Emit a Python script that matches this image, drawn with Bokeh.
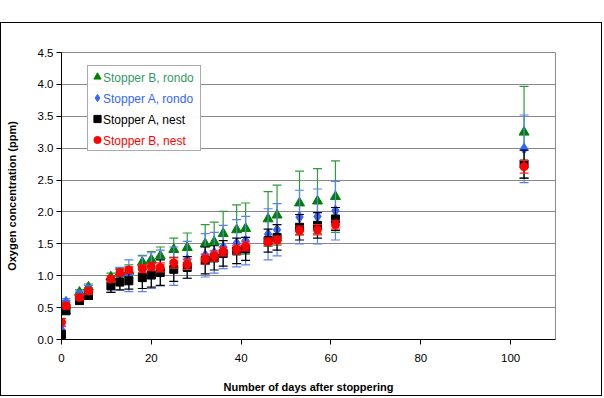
from bokeh.plotting import figure
from bokeh.models import (ColumnDataSource, Legend, LegendItem, Spacer,
                          SingleIntervalTicker, Range1d, CustomJSTickFormatter)
from bokeh.layouts import column
from bokeh.embed import file_html
from bokeh.resources import INLINE

# Days after stoppering
days = [0, 1, 4, 6, 11, 13, 15, 18, 20, 22, 25, 28, 32, 34, 36, 39, 41, 46, 48, 53, 57, 61, 103]

# Oxygen concentration (ppm) and standard deviations per closure type
b_rondo = [0.02, 0.57, 0.74, 0.82, 0.98, 1.03, 1.07, 1.21, 1.25, 1.31, 1.41, 1.44, 1.50, 1.53, 1.66, 1.72, 1.74, 1.89, 1.95, 2.14, 2.17, 2.24, 3.25]
b_rondo_sd = [0.02, 0.04, 0.04, 0.05, 0.06, 0.08, 0.10, 0.11, 0.13, 0.14, 0.18, 0.23, 0.30, 0.31, 0.35, 0.39, 0.40, 0.43, 0.47, 0.50, 0.51, 0.56, 0.72]

a_rondo = [0.15, 0.59, 0.70, 0.78, 0.87, 0.95, 1.00, 1.03, 1.08, 1.12, 1.15, 1.25, 1.32, 1.36, 1.45, 1.51, 1.55, 1.65, 1.72, 1.92, 1.93, 2.02, 2.99]
a_rondo_sd = [0.05, 0.05, 0.06, 0.07, 0.13, 0.18, 0.25, 0.28, 0.28, 0.28, 0.30, 0.29, 0.34, 0.32, 0.34, 0.37, 0.38, 0.40, 0.41, 0.42, 0.43, 0.46, 0.53]

a_nest = [0.08, 0.45, 0.61, 0.69, 0.84, 0.90, 0.92, 0.97, 1.01, 1.05, 1.10, 1.13, 1.24, 1.28, 1.35, 1.39, 1.42, 1.55, 1.60, 1.76, 1.79, 1.89, 2.75]
a_nest_sd = [0.04, 0.04, 0.05, 0.06, 0.10, 0.12, 0.13, 0.17, 0.19, 0.20, 0.19, 0.17, 0.21, 0.19, 0.20, 0.20, 0.18, 0.18, 0.20, 0.20, 0.20, 0.18, 0.22]

b_nest = [0.27, 0.53, 0.66, 0.76, 0.95, 1.05, 1.09, 1.11, 1.14, 1.13, 1.20, 1.18, 1.26, 1.31, 1.38, 1.41, 1.46, 1.53, 1.56, 1.71, 1.72, 1.80, 2.71]
b_nest_sd = [0.06, 0.05, 0.04, 0.05, 0.05, 0.05, 0.05, 0.06, 0.06, 0.07, 0.08, 0.08, 0.08, 0.08, 0.07, 0.07, 0.07, 0.06, 0.06, 0.07, 0.08, 0.07, 0.10]

series = [
    # label, values, sd, marker, size, marker colour, bar colour, text colour
    ("Stopper B, rondo", b_rondo, b_rondo_sd, "triangle", 10, "#008000", "#2e9a3a", "#339966"),
    ("Stopper A, rondo", a_rondo, a_rondo_sd, "diamond", 11, "#3366ff", "#5a82ee", "#3366ff"),
    ("Stopper A, nest", a_nest, a_nest_sd, "square", 8, "#000000", "#000000", "#000000"),
    ("Stopper B, nest", b_nest, b_nest_sd, "circle", 8, "#ff0000", "#ff2020", "#ff0000"),
]

FONT = "Liberation Sans"

p = figure(width=602, height=374, output_backend="svg", toolbar_location=None,
           x_range=Range1d(0, 110), y_range=Range1d(0, 4.5),
           min_border_left=60, min_border_right=48, min_border_top=29, min_border_bottom=58)
p.styles = {"border": "1px solid #000000"}
p.background_fill_color = "#ffffff"
p.border_fill_color = "#ffffff"
p.outline_line_color = "#8c8c8c"
p.outline_line_width = 1

p.xgrid.grid_line_color = None
p.ygrid.grid_line_color = "#888888"
p.ygrid.grid_line_width = 1

p.xaxis.ticker = SingleIntervalTicker(interval=20)
p.yaxis.ticker = SingleIntervalTicker(interval=0.5)
p.yaxis.formatter = CustomJSTickFormatter(code="return tick.toFixed(1);")

for ax in (p.xaxis, p.yaxis):
    ax.axis_line_color = "#000000"
    ax.major_tick_line_color = "#000000"
    ax.minor_tick_line_color = None
    ax.major_tick_out = 5
    ax.major_tick_in = 0
    ax.major_label_text_font = FONT
    ax.major_label_text_font_size = "11.5px"
    ax.major_label_text_color = "#000000"
    ax.axis_label_text_font = FONT
    ax.axis_label_text_font_size = "11px"
    ax.axis_label_text_font_style = "bold"
    ax.axis_label_text_color = "#000000"

p.xaxis.axis_label = "Number of days after stoppering"
p.yaxis.axis_label = "Oxygen concentration (ppm)"
p.xaxis.major_label_standoff = 9
p.xaxis.axis_label_standoff = 16
p.yaxis.major_label_standoff = 3
p.yaxis.axis_label_standoff = 17

marker_renderers = []
for label, vals, sd, marker, size, mcol, bcol, tcol in series:
    src = ColumnDataSource(dict(
        x=days, y=vals,
        lo=[v - s for v, s in zip(vals, sd)],
        hi=[v + s for v, s in zip(vals, sd)],
    ))
    p.segment(x0="x", y0="lo", x1="x", y1="hi", source=src, line_color=bcol, line_width=1.2)
    p.scatter(x="x", y="lo", source=src, marker="dash", size=9, line_color=bcol, line_width=1.2)
    p.scatter(x="x", y="hi", source=src, marker="dash", size=9, line_color=bcol, line_width=1.2)
    r = p.scatter(x="x", y="y", source=src, marker=marker, size=size,
                  fill_color=mcol, line_color=mcol)
    marker_renderers.append(r)

ROW = 21
LEG_X, LEG_Y = 26, 188

# Legend box holding the markers; the coloured entry texts come from the legends below
box = Legend(items=[LegendItem(label=" ", renderers=[r]) for r in marker_renderers],
             location=(LEG_X, LEG_Y), border_line_color="#555555", border_line_width=1,
             background_fill_color="#ffffff",
             glyph_width=18, glyph_height=ROW, label_height=ROW, label_width=91,
             label_standoff=3, spacing=0, padding=0, margin=0,
             label_text_font=FONT, label_text_font_size="12px")
p.add_layout(box, "center")

n = len(series)
for i, s in enumerate(series):
    ghost = p.scatter(x=[], y=[], marker="square", fill_alpha=0, line_alpha=0)
    lg = Legend(items=[LegendItem(label=s[0], renderers=[ghost])],
                location=(LEG_X, LEG_Y + (n - 1 - i) * ROW),
                border_line_color=None, background_fill_alpha=0,
                glyph_width=13, glyph_height=ROW, label_height=ROW,
                label_standoff=3, spacing=0, padding=0, margin=0,
                label_text_font=FONT, label_text_font_size="12px",
                label_text_color=s[7])
    p.add_layout(lg, "center")

layout = column(Spacer(width=604, height=22), p, spacing=0)
open("out.html", "w").write(file_html(layout, INLINE))
